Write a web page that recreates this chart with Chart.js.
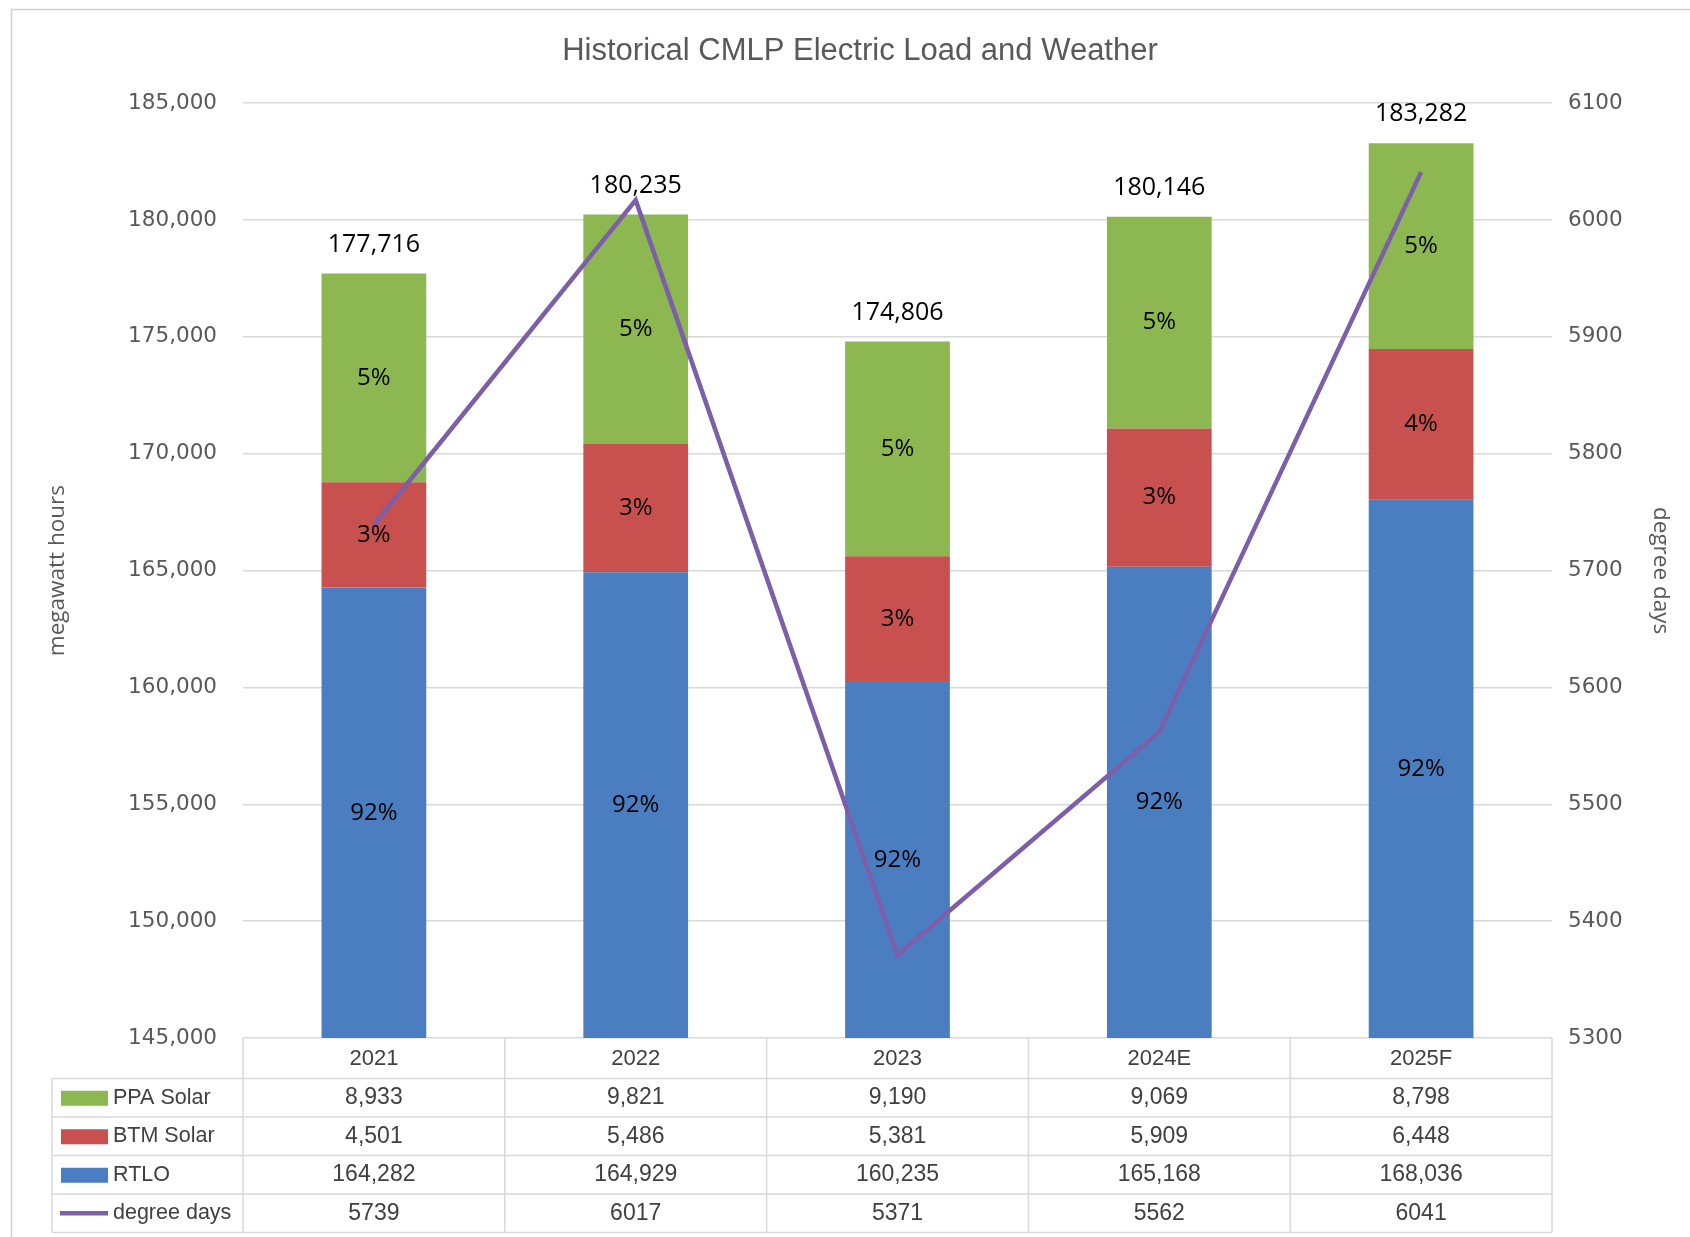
<!DOCTYPE html>
<html>
<head>
<meta charset="utf-8">
<script src="https://cdn.jsdelivr.net/npm/chart.js@4.4.1/dist/chart.umd.min.js"></script>
<style>
  html, body { margin: 0; padding: 0; background: #fff; }
  canvas { display: block; }
</style>
</head>
<body>
<canvas id="c" width="1690" height="1237"></canvas>
<script>
// ---- data ----
const categories = ['2021', '2022', '2023', '2024E', '2025F'];
const ppaSolar   = [8933, 9821, 9190, 9069, 8798];
const btmSolar   = [4501, 5486, 5381, 5909, 6448];
const rtlo       = [164282, 164929, 160235, 165168, 168036];
const degreeDays = [5739, 6017, 5371, 5562, 6041];
const totals     = [177716, 180235, 174806, 180146, 183282];
const pctPPA  = ['5%', '5%', '5%', '5%', '5%'];
const pctBTM  = ['3%', '3%', '3%', '3%', '4%'];
const pctRTLO = ['92%', '92%', '92%', '92%', '92%'];
const leftTicks  = { min: 145000, max: 185000, step: 5000 };
const rightTicks = { min: 5300, max: 6100, step: 100 };

const COLORS = { ppa: '#8DB751', btm: '#C8504E', rtlo: '#4A7EC0', dd: '#7D5FA9' };
const GRID = '#D9D9D9';
const NARROW = "'Liberation Sans Narrow', 'Liberation Sans', sans-serif";
const WIDE = "'DejaVu Sans', sans-serif";
const LABELF = "'Open Sans', sans-serif";
const fmt = v => v.toLocaleString('en-US');

const bg = {
  id: 'bg',
  beforeDraw(chart) {
    const ctx = chart.ctx;
    ctx.save();
    ctx.fillStyle = '#fff';
    ctx.fillRect(0, 0, chart.width, chart.height);
    ctx.strokeStyle = '#D0D0D0';
    ctx.lineWidth = 1.5;
    ctx.strokeRect(11.5, 9.5, chart.width + 20, chart.height + 20);
    ctx.restore();
  }
};

const labels = {
  id: 'labels',
  afterDatasetsDraw(chart) {
    const ctx = chart.ctx, area = chart.chartArea;
    ctx.save();
    ctx.textAlign = 'center';
    ctx.textBaseline = 'middle';
    ctx.fillStyle = '#000';
    ctx.font = "24px " + LABELF;
    const sets = [[0, pctRTLO], [1, pctBTM], [2, pctPPA]];
    sets.forEach(([di, txt]) => {
      const meta = chart.getDatasetMeta(di);
      meta.data.forEach((el, i) => {
        const top = Math.max(Math.min(el.y, el.base), area.top);
        const bot = Math.min(Math.max(el.y, el.base), area.bottom);
        ctx.fillText(txt[i], el.x, (top + bot) / 2);
      });
    });
    ctx.font = "25px " + LABELF;
    const topMeta = chart.getDatasetMeta(2);
    const ys = chart.scales.y;
    topMeta.data.forEach((el, i) => {
      ctx.fillText(fmt(totals[i]), el.x, ys.getPixelForValue(totals[i]) - 29);
    });
    ctx.restore();
  }
};

const table = {
  id: 'table',
  afterDraw(chart) {
    const ctx = chart.ctx, area = chart.chartArea;
    const xs = chart.scales.x;
    const n = categories.length;
    const colW = (area.right - area.left) / n;
    const top = area.bottom + 2;
    const rowH = 38.5;
    const legLeft = 52;
    const rows = [
      { name: 'PPA Solar', vals: ppaSolar.map(fmt), key: 'rect', color: COLORS.ppa },
      { name: 'BTM Solar', vals: btmSolar.map(fmt), key: 'rect', color: COLORS.btm },
      { name: 'RTLO', vals: rtlo.map(fmt), key: 'rect', color: COLORS.rtlo },
      { name: 'degree days', vals: degreeDays.map(String), key: 'line', color: COLORS.dd }
    ];
    const bottom = top + rowH * (rows.length + 1);
    ctx.save();
    ctx.strokeStyle = GRID;
    ctx.lineWidth = 1.5;
    ctx.beginPath();
    for (let i = 0; i <= n; i++) {
      const x = area.left + i * colW;
      ctx.moveTo(x, area.bottom); ctx.lineTo(x, bottom);
    }
    ctx.moveTo(legLeft, top + rowH); ctx.lineTo(legLeft, bottom);
    for (let r = 1; r <= rows.length + 1; r++) {
      const y = top + r * rowH;
      ctx.moveTo(legLeft, y); ctx.lineTo(area.right, y);
    }
    ctx.stroke();

    ctx.textBaseline = 'middle';
    ctx.fillStyle = '#404040';
    ctx.font = "22px " + NARROW;
    ctx.textAlign = 'center';
    categories.forEach((c, i) => {
      ctx.fillText(c, xs.getPixelForValue(i), top + rowH / 2);
    });
    rows.forEach((row, r) => {
      const yc = top + rowH * (r + 1) + rowH / 2;
      ctx.textAlign = 'center';
      ctx.fillStyle = '#404040';
      ctx.font = "23px " + NARROW;
      row.vals.forEach((v, i) => ctx.fillText(v, xs.getPixelForValue(i), yc));
      if (row.key === 'rect') {
        ctx.fillStyle = row.color;
        ctx.fillRect(61, yc - 7, 47, 15);
      } else {
        ctx.strokeStyle = row.color;
        ctx.lineWidth = 4.5;
        ctx.beginPath();
        ctx.moveTo(60, yc); ctx.lineTo(108, yc);
        ctx.stroke();
      }
      ctx.fillStyle = '#404040';
      ctx.textAlign = 'left';
      ctx.font = "21.5px " + NARROW;
      ctx.fillText(row.name, 113, yc);
    });
    ctx.restore();
  }
};

new Chart(document.getElementById('c'), {
  data: {
    labels: categories,
    datasets: [
      { type: 'bar', label: 'RTLO', data: rtlo, backgroundColor: COLORS.rtlo, stack: 's', yAxisID: 'y', order: 1, barPercentage: 0.4, categoryPercentage: 1 },
      { type: 'bar', label: 'BTM Solar', data: btmSolar, backgroundColor: COLORS.btm, stack: 's', yAxisID: 'y', order: 1, barPercentage: 0.4, categoryPercentage: 1 },
      { type: 'bar', label: 'PPA Solar', data: ppaSolar, backgroundColor: COLORS.ppa, stack: 's', yAxisID: 'y', order: 1, barPercentage: 0.4, categoryPercentage: 1 },
      { type: 'line', label: 'degree days', data: degreeDays, borderColor: COLORS.dd, borderWidth: 4.5, pointRadius: 0, tension: 0, yAxisID: 'y1', order: 0 }
    ]
  },
  options: {
    responsive: false,
    animation: false,
    devicePixelRatio: 1,
    layout: { padding: { left: 40, right: 10, top: 0, bottom: 199 } },
    plugins: {
      legend: { display: false },
      tooltip: { enabled: false },
      title: {
        display: true,
        text: 'Historical CMLP Electric Load and Weather',
        color: '#595959',
        font: { family: NARROW, size: 31, weight: 'normal' },
        padding: { top: 33, bottom: 33 }
      }
    },
    scales: {
      x: { display: false, stacked: true, offset: true },
      y: {
        stacked: true,
        position: 'left',
        min: leftTicks.min, max: leftTicks.max,
        ticks: { stepSize: leftTicks.step, color: '#595959', font: { family: WIDE, size: 21.5 }, padding: 26, callback: v => fmt(v) },
        grid: { color: GRID, lineWidth: 1.5, drawTicks: false },
        border: { display: false },
        title: { display: true, text: 'megawatt hours', color: '#595959', font: { family: LABELF, size: 22.5 }, padding: { top: 4, bottom: 0 } },
        afterFit: s => { s.width = 203; }
      },
      y1: {
        position: 'right',
        min: rightTicks.min, max: rightTicks.max,
        ticks: { stepSize: rightTicks.step, color: '#595959', font: { family: WIDE, size: 21.5 }, padding: 16, callback: v => String(v) },
        grid: { drawOnChartArea: false, drawTicks: false },
        border: { display: false },
        title: { display: true, text: 'degree days', color: '#595959', font: { family: LABELF, size: 22.5 }, padding: { top: 6, bottom: 0 } },
        afterFit: s => { s.width = 128; }
      }
    }
  },
  plugins: [bg, labels, table]
});
</script>
</body>
</html>
